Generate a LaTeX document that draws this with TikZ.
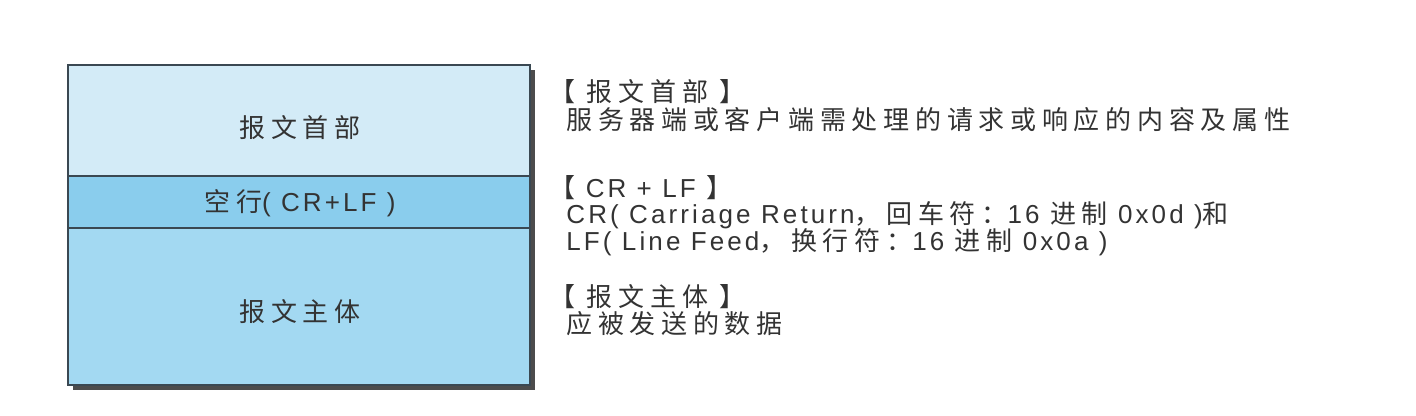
\documentclass[tikz,border=0pt]{standalone}
\usepackage{fontspec}
\newfontfamily\cjkw[LetterSpace=22]{Noto Sans CJK SC}
\newfontfamily\lat[LetterSpace=12]{Liberation Sans}
\newcommand{\kj}[1]{{\cjkw #1}}
\definecolor{hdrblue}{HTML}{D3EBF7}
\definecolor{crlfblue}{HTML}{8ACDED}
\definecolor{bodyblue}{HTML}{A3D9F2}
\definecolor{edge}{HTML}{3A4852}
\definecolor{ink}{HTML}{333333}

\begin{document}
\begin{tikzpicture}[x=0.5pt,y=0.5pt,
    every node/.style={text=ink,font=\lat\fontsize{13}{15}\selectfont,inner sep=0pt},
    desc/.style={anchor=base west,text height=9.5pt,text depth=2.5pt}]
  \useasboundingbox (0,0) rectangle (1416,416);
  % message box
  \fill[black!70] (73,26) rectangle (535,346);
  \fill[hdrblue] (68,240) rectangle (530,351);
  \fill[crlfblue] (68,188) rectangle (530,240);
  \fill[bodyblue] (68,31) rectangle (530,188);
  \draw[edge,line width=0.8pt] (68,31) rectangle (530,351);
  \draw[edge,line width=0.8pt] (68,240)--(530,240);
  \draw[edge,line width=0.8pt] (68,188)--(530,188);
  \node (hdr) at (300,288) {\kj{报文首部}};
  \node (blank) at (300,213) {\kj{空行}( CR+LF )};
  \node (body) at (300,104) {\kj{报文主体}};
  % notes on the right
  \node[desc] (hdrtitle) at (549,314) {\kj{【 报文首部 】}};
  \node[desc] (hdrdesc) at (566,286) {\kj{服务器端或客户端需处理的请求或响应的内容及属性}};
  \node[desc] (crlftitle) at (549,218) {\kj{【} CR + LF \kj{】}};
  \node[desc] (crdesc) at (566,192) {CR( Carriage Return\kj{，回车符：}16 \kj{进制} 0x0d )\kj{和}};
  \node[desc] (lfdesc) at (566,165) {LF( Line Feed\kj{，换行符：}16 \kj{进制} 0x0a )};
  \node[desc] (bodytitle) at (549,109) {\kj{【 报文主体 】}};
  \node[desc] (bodydesc) at (566,82) {\kj{应被发送的数据}};
\end{tikzpicture}
\end{document}
